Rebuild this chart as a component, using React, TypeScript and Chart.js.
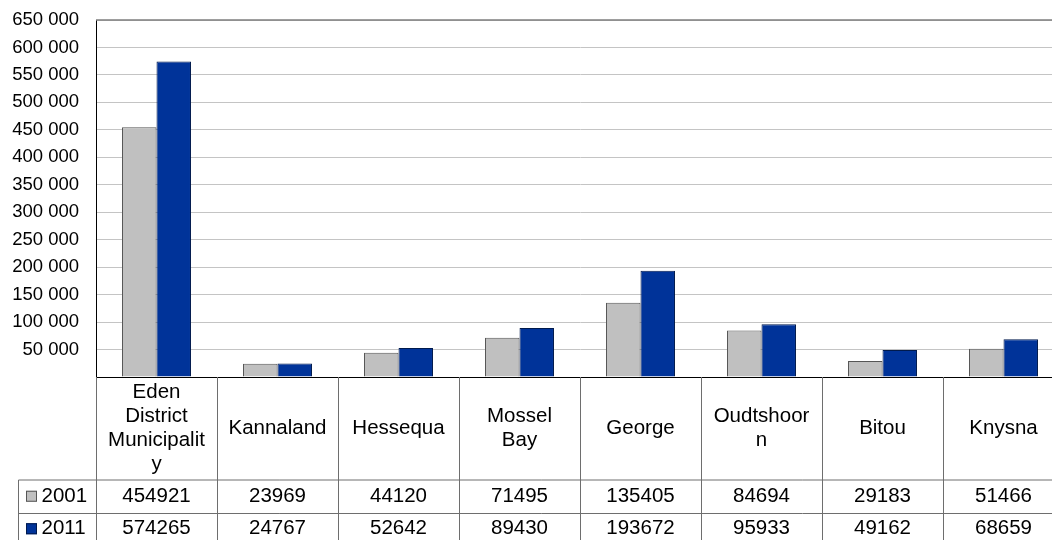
import { useEffect, useRef } from 'react';
import { Chart, registerables } from 'chart.js';

Chart.register(...registerables);

// Municipalities of the Eden district, population by census year
const categories = [
  'Eden District Municipality',
  'Kannaland',
  'Hessequa',
  'Mossel Bay',
  'George',
  'Oudtshoorn',
  'Bitou',
  'Knysna',
];
const seriesLabels = ['2001', '2011'];
const population2001 = [454921, 23969, 44120, 71495, 135405, 84694, 29183, 51466];
const population2011 = [574265, 24767, 52642, 89430, 193672, 95933, 49162, 68659];

const yMax = 650000;
const yStep = 50000;

const FILL_2001 = '#c0c0c0';
const EDGE_2001 = '#555555';
const FILL_2011 = '#003399';
const EDGE_2011 = '#001a4d';

const FONT = '"Liberation Sans", Arial, sans-serif';
const CANVAS_W = 1070;
const CANVAS_H = 545;

const spaced = (v: number) => String(v).replace(/\B(?=(\d{3})+(?!\d))/g, ' ');

function wrapText(ctx: CanvasRenderingContext2D, text: string, maxW: number): string[] {
  const lines: string[] = [];
  let cur = '';
  for (const word of text.split(' ')) {
    const joined = cur ? cur + ' ' + word : word;
    if (ctx.measureText(joined).width <= maxW) {
      cur = joined;
      continue;
    }
    if (cur) lines.push(cur);
    let piece = '';
    for (const ch of word) {
      if (piece && ctx.measureText(piece + ch).width > maxW) {
        lines.push(piece);
        piece = ch;
      } else {
        piece += ch;
      }
    }
    cur = piece;
  }
  if (cur) lines.push(cur);
  return lines;
}

// Plot frame plus the data table under the category axis
const dataTablePlugin = {
  id: 'dataTable',
  afterDraw(chart: any) {
    const { ctx, chartArea } = chart;
    const xScale = chart.scales.x;
    const n = categories.length;
    const colW = (xScale.right - xScale.left) / n;
    const top = chartArea.bottom;
    const headerBottom = top + 103;
    const rowH = 32.5;
    const legendLeft = 18.5;
    const right = xScale.left + colW * n;
    const bottom = headerBottom + rowH * 2;

    ctx.save();
    // top frame line of plot area
    ctx.strokeStyle = '#7f7f7f';
    ctx.lineWidth = 1.5;
    ctx.beginPath();
    ctx.moveTo(chartArea.left, chartArea.top);
    ctx.lineTo(chartArea.right, chartArea.top);
    ctx.moveTo(chartArea.right, chartArea.top);
    ctx.lineTo(chartArea.right, chartArea.bottom);
    ctx.stroke();

    // table grid
    ctx.strokeStyle = '#6e6e6e';
    ctx.lineWidth = 1;
    ctx.beginPath();
    for (let i = 0; i <= n; i++) {
      const x = Math.round(xScale.left + colW * i) + 0.5;
      ctx.moveTo(x, top);
      ctx.lineTo(x, bottom);
    }
    ctx.moveTo(legendLeft, headerBottom);
    ctx.lineTo(legendLeft, bottom);
    ctx.moveTo(legendLeft, headerBottom);
    ctx.lineTo(right, headerBottom);
    ctx.moveTo(legendLeft, Math.round(headerBottom + rowH) + 0.5);
    ctx.lineTo(right, Math.round(headerBottom + rowH) + 0.5);
    ctx.moveTo(legendLeft, bottom);
    ctx.lineTo(right, bottom);
    ctx.stroke();

    ctx.fillStyle = '#000000';
    ctx.font = `20.5px ${FONT}`;
    ctx.textBaseline = 'middle';

    // header: category names, wrapped inside their cells
    ctx.textAlign = 'center';
    const headMid = (top + headerBottom) / 2;
    categories.forEach((name, i) => {
      const cx = xScale.left + colW * (i + 0.5);
      const lines = wrapText(ctx, name, colW - 21);
      lines.forEach((line, j) => {
        ctx.fillText(line, cx, headMid + (j - (lines.length - 1) / 2) * 24);
      });
    });

    // value rows
    const rows = [population2001, population2011];
    const fills = [FILL_2001, FILL_2011];
    const edges = [EDGE_2001, EDGE_2011];
    rows.forEach((vals, r) => {
      const cy = headerBottom + rowH * (r + 0.5);
      ctx.textAlign = 'center';
      ctx.fillStyle = '#000000';
      vals.forEach((v, i) => {
        ctx.fillText(String(v), xScale.left + colW * (i + 0.5), cy);
      });
      // legend key
      ctx.fillStyle = fills[r];
      ctx.fillRect(26, cy - 5.5, 11, 11);
      ctx.strokeStyle = edges[r];
      ctx.strokeRect(26.5, cy - 5, 10, 10);
      ctx.fillStyle = '#000000';
      ctx.textAlign = 'left';
      ctx.fillText(seriesLabels[r], 41.5, cy);
    });
    ctx.restore();
  },
};

export default function App() {
  const canvasRef = useRef<HTMLCanvasElement | null>(null);

  useEffect(() => {
    const canvas = canvasRef.current;
    if (!canvas) return;
    const chart = new Chart(canvas, {
      type: 'bar',
      data: {
        labels: categories,
        datasets: [
          {
            label: seriesLabels[0],
            data: population2001,
            backgroundColor: FILL_2001,
            borderColor: EDGE_2001,
            borderWidth: 1,
          },
          {
            label: seriesLabels[1],
            data: population2011,
            backgroundColor: FILL_2011,
            borderColor: EDGE_2011,
            borderWidth: 1,
          },
        ],
      },
      options: {
        responsive: false,
        animation: false,
        devicePixelRatio: 1,
        layout: { padding: { top: 20, right: 6, bottom: CANVAS_H - 377, left: 0 } },
        datasets: {
          bar: { categoryPercentage: 0.57, barPercentage: 1 },
        },
        plugins: {
          legend: { display: false },
          tooltip: { enabled: false },
          title: { display: false },
        },
        scales: {
          x: {
            grid: { display: false, drawTicks: false },
            border: { display: true, color: '#000000', width: 1 },
            ticks: { display: false },
            afterFit(scale: any) {
              scale.height = 0;
              scale.paddingLeft = 0;
              scale.paddingRight = 0;
            },
          },
          y: {
            min: 0,
            max: yMax,
            grid: { color: '#c4c4c4', lineWidth: 1, drawTicks: false },
            border: { display: true, color: '#000000', width: 1 },
            ticks: {
              stepSize: yStep,
              padding: 17,
              color: '#000000',
              font: { family: FONT, size: 18.5 },
              callback: (v: any) => (Number(v) === 0 ? '' : spaced(Number(v))),
            },
            afterFit(scale: any) {
              scale.width = 96;
              scale.paddingTop = 0;
              scale.paddingBottom = 0;
            },
          },
        },
      },
      plugins: [dataTablePlugin],
    });
    return () => chart.destroy();
  }, []);

  return (
    <div
      style={{
        position: 'fixed',
        left: 0,
        top: 0,
        width: 1052,
        height: 540,
        overflow: 'hidden',
        background: '#ffffff',
      }}
    >
      <canvas ref={canvasRef} width={CANVAS_W} height={CANVAS_H} style={{ display: 'block' }} />
    </div>
  );
}
